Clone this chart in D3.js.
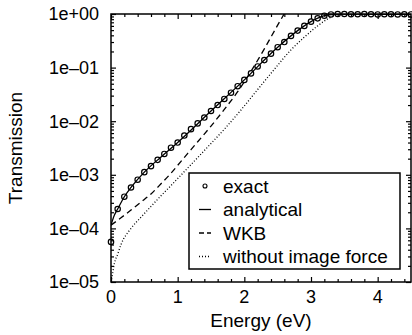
<!DOCTYPE html>
<html>
<head>
<meta charset="utf-8">
<script src="https://cdn.jsdelivr.net/npm/d3@7"></script>
<style>
  body { margin: 0; background: #fff; }
  svg { display: block; font-family: "Liberation Sans", Arial, Helvetica, sans-serif; }
</style>
</head>
<body>
<svg id="chart" width="412" height="335"></svg>
<script>
// energies (eV) and transmission values
var exactE = [0, 0.1, 0.2, 0.3, 0.4, 0.5, 0.6, 0.7, 0.8, 0.9,
  1.0, 1.1, 1.2, 1.3, 1.4, 1.5, 1.6, 1.7, 1.8, 1.9,
  2.0, 2.1, 2.2, 2.3, 2.4, 2.5, 2.6, 2.7, 2.8, 2.9,
  3.0, 3.1, 3.2, 3.3, 3.4, 3.5, 3.6, 3.7, 3.8, 3.9,
  4.0, 4.1, 4.2, 4.3, 4.4, 4.5];
var exactT = [5.6e-5, 2.3e-4, 3.9e-4, 5.8e-4, 8.1e-4, 1.12e-3, 1.45e-3, 1.9e-3, 2.45e-3, 3.2e-3,
  4.0e-3, 5.4e-3, 7.1e-3, 9.1e-3, 1.17e-2, 1.55e-2, 2.0e-2, 2.6e-2, 3.4e-2, 4.5e-2,
  5.9e-2, 7.8e-2, 0.105, 0.138, 0.182, 0.24, 0.30, 0.39, 0.49, 0.60,
  0.72, 0.83, 0.93, 0.98, 1.0, 1.0, 0.99, 0.99, 1.0, 0.99,
  0.98, 0.99, 0.99, 0.98, 0.99, 0.98];

var analyticalE = [0, 0.05, 0.1, 0.2, 0.3, 0.5, 0.75, 1.0, 1.5, 2.0, 2.5, 2.8, 3.0, 3.2, 3.35, 3.5, 4.0, 4.5];
var analyticalT = [1.15e-4, 1.75e-4, 2.3e-4, 3.9e-4, 5.8e-4, 1.12e-3, 2.15e-3, 4.0e-3, 1.55e-2, 5.9e-2, 0.24, 0.49, 0.72, 0.93, 0.99, 1.0, 0.99, 0.98];

var wkbE = [0, 0.15, 0.3, 0.45, 0.6, 0.75, 0.9, 1.05, 1.2, 1.5, 1.7, 1.9, 2.1, 2.3, 2.5, 2.6, 2.7];
var wkbT = [1.15e-4, 1.58e-4, 2.2e-4, 3.1e-4, 4.4e-4, 6.8e-4, 1.07e-3, 1.78e-3, 2.95e-3, 8.1e-3, 1.66e-2, 3.55e-2, 8.5e-2, 0.224, 0.62, 1.02, 1.7];

var noImageE = [0, 0.02, 0.05, 0.1, 0.15, 0.3, 0.45, 0.6, 0.75, 0.9, 1.0, 1.2, 1.45, 1.7, 1.95, 2.2, 2.45, 2.7, 2.9, 3.1, 3.25, 3.4, 3.5, 4.5];
var noImageT = [1.0e-5, 1.35e-5, 2.2e-5, 3.3e-5, 5.0e-5, 1.0e-4, 1.62e-4, 2.57e-4, 4.07e-4, 6.3e-4, 8.5e-4, 1.55e-3, 3.3e-3, 7.1e-3, 1.62e-2, 3.9e-2, 9.3e-2, 0.214, 0.37, 0.60, 0.81, 0.98, 1.0, 1.0];

var xTicks = [0, 1, 2, 3, 4];
var yTicks = [1e-5, 1e-4, 1e-3, 1e-2, 1e-1, 1];
var yTickLabels = ["1e\u201305", "1e\u201304", "1e\u201303", "1e\u201302", "1e\u201301", "1e+00"];
var legendLabels = ["exact", "analytical", "WKB", "without image force"];

var svg = d3.select("#chart");
var plotLeft = 111, plotRight = 411, plotTop = 14, plotBottom = 282;

var x = d3.scaleLinear().domain([0, 4.5]).range([plotLeft, plotRight]);
var y = d3.scaleLog().domain([1e-5, 1]).range([plotBottom, plotTop]);

// minor tick positions
var xMinor = d3.range(0, 4.5001, 0.2).filter(function(v) {
  return Math.abs(v - Math.round(v)) > 1e-6;
});
var yMinor = [];
yTicks.slice(0, -1).forEach(function(p) {
  for (var k = 2; k <= 9; k++) yMinor.push(p * k);
});

function tickAxis(axis, values, size, tx, ty) {
  var g = svg.append("g")
    .attr("transform", "translate(" + tx + "," + ty + ")")
    .call(axis.tickValues(values).tickSize(size).tickFormat(""));
  g.select(".domain").remove();
  g.selectAll("line").attr("stroke", "#000").attr("stroke-width", 1.2);
  return g;
}

// inward ticks on all four sides
tickAxis(d3.axisBottom(x), xTicks, -5, 0, plotBottom);
tickAxis(d3.axisBottom(x), xMinor, -3, 0, plotBottom);
tickAxis(d3.axisTop(x), xTicks, -5, 0, plotTop);
tickAxis(d3.axisTop(x), xMinor, -3, 0, plotTop);
tickAxis(d3.axisLeft(y), yTicks, -5, plotLeft, 0);
tickAxis(d3.axisLeft(y), yMinor, -3, plotLeft, 0);
tickAxis(d3.axisRight(y), yTicks, -5, plotRight, 0);
tickAxis(d3.axisRight(y), yMinor, -3, plotRight, 0);

// tick labels
svg.append("g").selectAll("text")
  .data(xTicks)
  .enter().append("text")
  .attr("x", function(d) { return x(d); })
  .attr("y", plotBottom + 21)
  .attr("text-anchor", "middle")
  .attr("font-size", 18)
  .text(function(d) { return d; });

svg.append("g").selectAll("text")
  .data(yTicks)
  .enter().append("text")
  .attr("x", plotLeft - 12)
  .attr("y", function(d) { return y(d); })
  .attr("dy", "0.36em")
  .attr("text-anchor", "end")
  .attr("font-size", 18)
  .text(function(d, i) { return yTickLabels[i]; });

svg.append("text")
  .attr("x", (plotLeft + plotRight) / 2)
  .attr("y", 327)
  .attr("text-anchor", "middle")
  .attr("font-size", 19)
  .text("Energy (eV)");

svg.append("text")
  .attr("transform", "translate(22," + (plotTop + plotBottom) / 2 + ") rotate(-90)")
  .attr("text-anchor", "middle")
  .attr("font-size", 19)
  .text("Transmission");

// curves
svg.append("clipPath").attr("id", "plotclip")
  .append("rect")
  .attr("x", plotLeft).attr("y", plotTop)
  .attr("width", plotRight - plotLeft).attr("height", plotBottom - plotTop);

var line = d3.line()
  .x(function(d) { return x(d[0]); })
  .y(function(d) { return y(d[1]); })
  .curve(d3.curveMonotoneX);

function drawCurve(es, ts, dash) {
  svg.append("path")
    .datum(d3.zip(es, ts))
    .attr("clip-path", "url(#plotclip)")
    .attr("fill", "none")
    .attr("stroke", "#000")
    .attr("stroke-width", 1.3)
    .attr("stroke-dasharray", dash)
    .attr("d", line);
}

drawCurve(noImageE, noImageT, "1,2");
drawCurve(wkbE, wkbT, "6,4");
drawCurve(analyticalE, analyticalT, null);

// frame
svg.append("rect")
  .attr("x", plotLeft).attr("y", plotTop)
  .attr("width", plotRight - plotLeft).attr("height", plotBottom - plotTop)
  .attr("fill", "none")
  .attr("stroke", "#000")
  .attr("stroke-width", 1.5);

svg.append("g").selectAll("circle")
  .data(d3.zip(exactE, exactT))
  .enter().append("circle")
  .attr("cx", function(d) { return x(d[0]); })
  .attr("cy", function(d) { return y(d[1]); })
  .attr("r", 2.7)
  .attr("fill", "none")
  .attr("stroke", "#000")
  .attr("stroke-width", 1.2);

// legend
var lg = svg.append("g");
lg.append("rect")
  .attr("x", 189).attr("y", 173)
  .attr("width", 211).attr("height", 96)
  .attr("fill", "#fff")
  .attr("stroke", "#000")
  .attr("stroke-width", 1.5);

var dashes = [null, null, "5,3", "1,2"];
legendLabels.forEach(function(label, i) {
  var ly = 186 + i * 23.5;
  if (i == 0) {
    lg.append("circle")
      .attr("cx", 205).attr("cy", ly).attr("r", 2)
      .attr("fill", "none").attr("stroke", "#000").attr("stroke-width", 1.1);
  } else {
    lg.append("line")
      .attr("x1", 199).attr("x2", 211)
      .attr("y1", ly).attr("y2", ly)
      .attr("stroke", "#000")
      .attr("stroke-width", 1.3)
      .attr("stroke-dasharray", dashes[i]);
  }
  lg.append("text")
    .attr("x", 223)
    .attr("y", ly)
    .attr("dy", "0.35em")
    .attr("font-size", 19)
    .text(label);
});
</script>
</body>
</html>
